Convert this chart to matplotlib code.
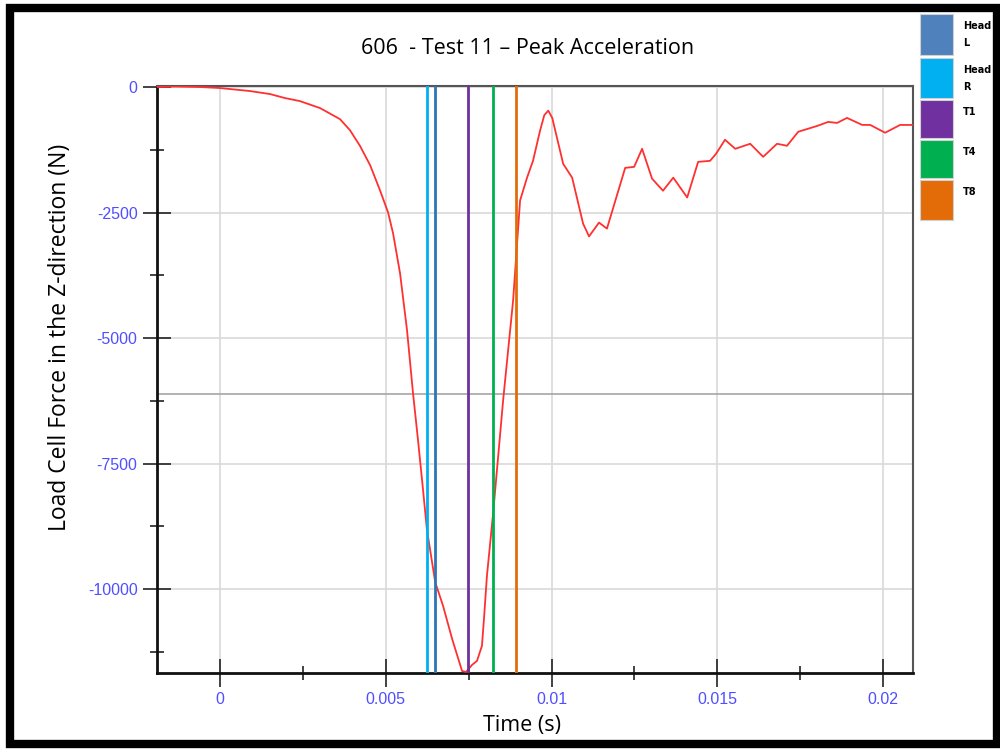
import numpy as np
import matplotlib.pyplot as plt
from matplotlib.patches import Rectangle
from matplotlib.ticker import MultipleLocator

# Load cell force trace (time in s, force in N)
time_s = [-0.0019, -0.00136, -0.0006, 0.0, 0.000905, 0.00151, 0.00196, 0.00241,
          0.00302, 0.00362, 0.00392, 0.00422, 0.00453, 0.00483, 0.00507, 0.00522,
          0.00543, 0.00564, 0.00582, 0.00597, 0.00612, 0.00624, 0.00649, 0.00673,
          0.0070, 0.0073, 0.00742, 0.0076, 0.00775, 0.0079, 0.00796, 0.00805,
          0.00824, 0.00854, 0.00884, 0.00905,
          0.00926, 0.00944, 0.00965, 0.00978, 0.0099, 0.01002, 0.01035, 0.01062,
          0.01095, 0.01113, 0.01143, 0.01167, 0.01222, 0.01249, 0.01273, 0.01303,
          0.01336, 0.01367, 0.01409, 0.01442, 0.01478, 0.01496, 0.01523, 0.01554,
          0.01599, 0.01638, 0.0168, 0.0171, 0.01744, 0.01801, 0.01834, 0.01861,
          0.01891, 0.01937, 0.01961, 0.02006, 0.02051, 0.0209]
force_n = [0, 10, 0, -20, -80, -140, -220, -280,
           -420, -640, -860, -1170, -1560, -2065, -2500, -2915,
           -3710, -4840, -6090, -7020, -8000, -8810, -9860, -10340,
           -10990, -11630, -11650, -11510, -11430, -11130, -10600, -9740,
           -8470, -6230, -4250, -2260,
           -1805, -1470, -875, -560, -470, -615, -1530, -1805,
           -2720, -2975, -2700, -2820, -1610, -1590, -1230, -1825,
           -2065, -1805, -2200, -1490, -1470, -1330, -1050, -1230,
           -1130, -1390, -1130, -1170, -890, -775, -695, -715,
           -615, -755, -755, -910, -755, -755]

# Peak acceleration times per sensor
sensors = ["Head\nL", "Head\nR", "T1", "T4", "T8"]
peak_times = [0.00649, 0.00624, 0.00748, 0.00823, 0.00894]
line_colors = ["#2E75B6", "#00B0F0", "#7030A0", "#00B050", "#E36C09"]
legend_colors = ["#4F81BD", "#00B0F0", "#7030A0", "#00B050", "#E36C09"]
ref_force = -6110

fig = plt.figure(figsize=(10, 7.5), dpi=100)
ax = fig.add_axes([0.157, 0.1027, 0.756, 0.7826])

ax.plot(time_s, force_n, color="#FF3030", lw=1.3, zorder=3)
for t, c in zip(peak_times, line_colors):
    ax.axvline(t, color=c, lw=2, zorder=4)
ax.axhline(ref_force, color="#A6A6A6", lw=1.2, zorder=2)

ax.set_xlim(-0.0019, 0.0209)
ax.set_ylim(-11670, 20)
ax.xaxis.set_minor_locator(MultipleLocator(0.0025))
ax.yaxis.set_minor_locator(MultipleLocator(1250))
ax.set_xticks([0, 0.005, 0.01, 0.015, 0.02])
ax.set_xticklabels(["0", "0.005", "0.01", "0.015", "0.02"])
ax.set_yticks([0, -2500, -5000, -7500, -10000])
ax.set_yticklabels(["0", "-2500", "-5000", "-7500", "-10000"])
ax.grid(True, which="major", color="#D9D9D9", lw=1.2, zorder=0)
ax.set_axisbelow(True)

ax.tick_params(which="major", direction="inout", length=20, width=1.2,
               colors="#222222", labelcolor="#4F4FFF", labelsize=11, pad=4)
ax.tick_params(which="minor", direction="inout", length=10, width=1.2,
               colors="#222222")
for lab in ax.get_xticklabels() + ax.get_yticklabels():
    lab.set_family("Liberation Sans")
    lab.set_fontsize(11.5)
for s in ["left", "bottom"]:
    ax.spines[s].set_linewidth(2)
    ax.spines[s].set_color("#111111")
for s in ["top", "right"]:
    ax.spines[s].set_linewidth(1.5)
    ax.spines[s].set_color("#555555")

ax.set_title("606  - Test 11 \u2013 Peak Acceleration", fontsize=15.5, pad=23,
             family="Open Sans", x=0.49)
ax.set_xlabel("Time (s)", fontsize=15.5, family="Open Sans")
ax.set_ylabel("Load Cell Force in the Z-direction (N)", fontsize=16.5,
              family="Open Sans")
ax.xaxis.set_label_coords(0.483, -0.072)
ax.yaxis.set_label_coords(-0.112, 0.571)

# legend boxes at the top right, outside the axes
box_tops = [14, 58, 100, 140, 180]
box_h = [41, 40, 38, 38, 40]
for lab, c, top, h in zip(sensors, legend_colors, box_tops, box_h):
    fig.add_artist(Rectangle((920 / 1000, 1 - (top + h) / 750), 33 / 1000, h / 750,
                             transform=fig.transFigure, facecolor=c,
                             edgecolor="#D0D0D0", lw=0.8))
    fig.text(963 / 1000, 1 - (top + 7) / 750, lab, fontsize=7, fontweight="bold",
             va="top", ha="left", linespacing=1.9)

# black frame around the picture
fig.add_artist(Rectangle((0.010, 0.008), 0.987, 0.981, transform=fig.transFigure,
                         fill=False, edgecolor="black", lw=6))

fig.savefig("out.png", dpi=100)
